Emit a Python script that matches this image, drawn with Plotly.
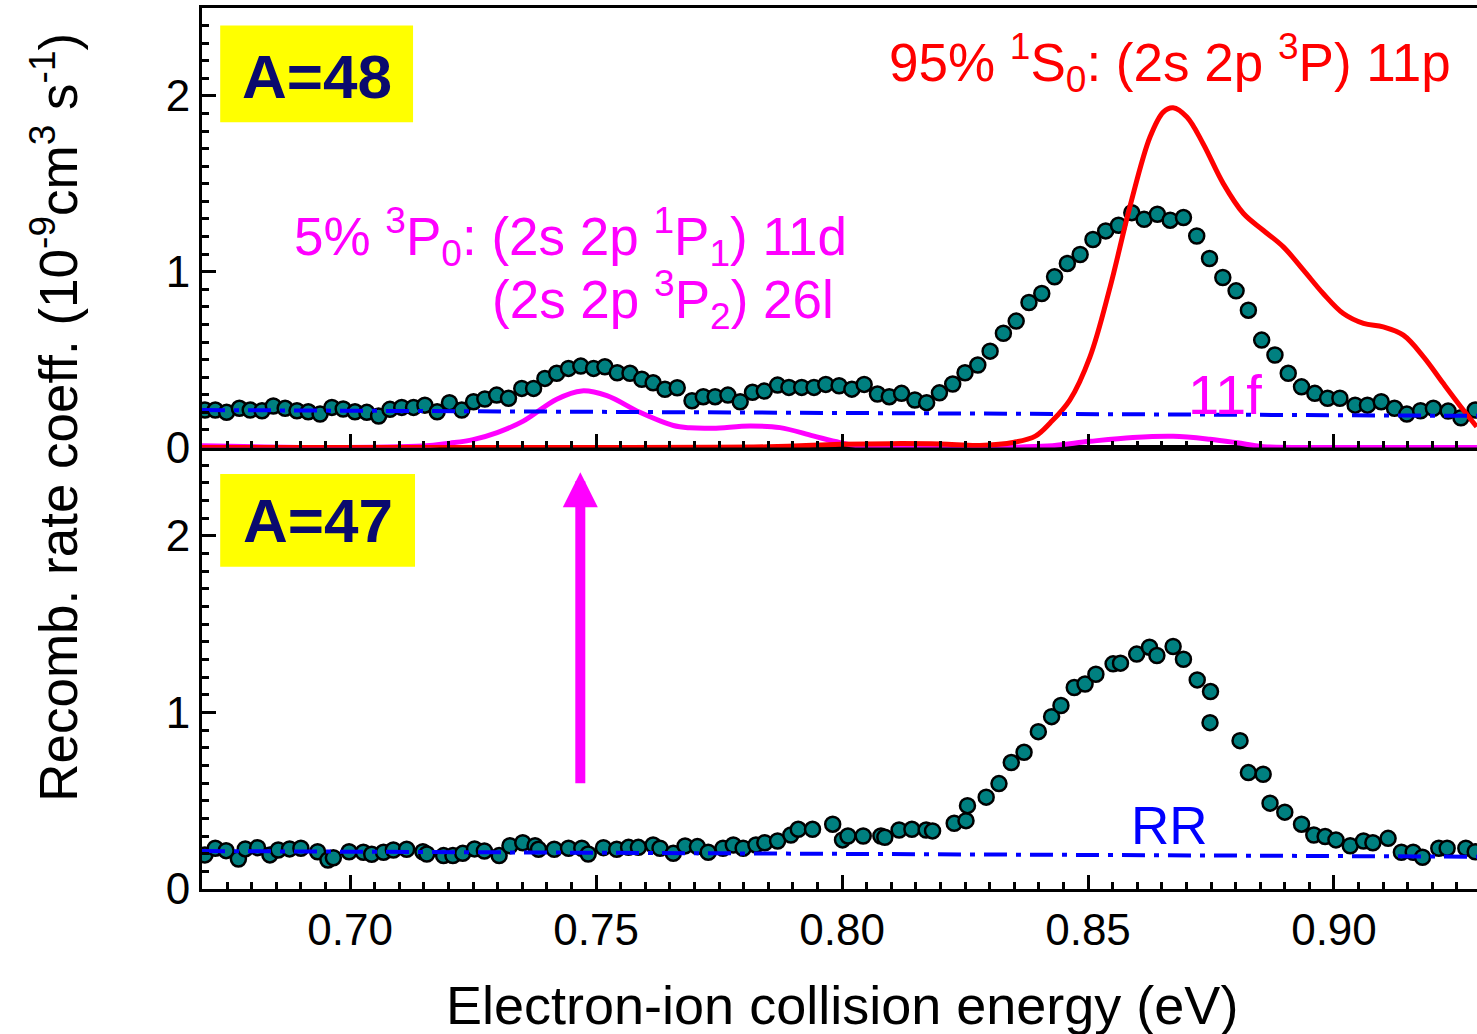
import plotly.graph_objects as go

# ---------------- data ----------------
top_x = [0.6705, 0.6726, 0.6749, 0.6775, 0.6797, 0.6821, 0.6844, 0.6868, 0.6892, 0.6915,
         0.6939, 0.6963, 0.6986, 0.7010, 0.7034, 0.7058, 0.7081, 0.7105, 0.7129, 0.7152,
         0.7177, 0.7202, 0.7227, 0.7251, 0.7274, 0.7298, 0.7322, 0.7349, 0.7373, 0.7396,
         0.7420, 0.7444, 0.7469, 0.7495, 0.7518, 0.7543, 0.7569, 0.7593, 0.7616, 0.7640,
         0.7665, 0.7695, 0.7718, 0.7742, 0.7768, 0.7793, 0.7818, 0.7842, 0.7869, 0.7892,
         0.7918, 0.7943, 0.7967, 0.7994, 0.8020, 0.8045, 0.8072, 0.8096, 0.8121, 0.8148,
         0.8172, 0.8198, 0.8225, 0.8250, 0.8276, 0.8301, 0.8328, 0.8354, 0.8380, 0.8406,
         0.8432, 0.8458, 0.8484, 0.8510, 0.8536, 0.8562, 0.8589, 0.8614, 0.8641, 0.8667,
         0.8694, 0.8721, 0.8747, 0.8774, 0.8801, 0.8826, 0.8853, 0.8880, 0.8907, 0.8934,
         0.8961, 0.8987, 0.9012, 0.9043, 0.9068, 0.9096, 0.9123, 0.9148, 0.9176, 0.9202,
         0.9232, 0.9258, 0.9287]
top_y = [0.213, 0.213, 0.200, 0.223, 0.213, 0.209, 0.236, 0.223, 0.209, 0.203,
         0.190, 0.228, 0.219, 0.203, 0.200, 0.179, 0.217, 0.228, 0.228, 0.241,
         0.203, 0.255, 0.213, 0.260, 0.276, 0.298, 0.280, 0.336, 0.336, 0.393,
         0.422, 0.450, 0.463, 0.450, 0.459, 0.425, 0.422, 0.388, 0.368, 0.331,
         0.340, 0.266, 0.289, 0.289, 0.298, 0.260, 0.314, 0.321, 0.355, 0.342,
         0.342, 0.342, 0.359, 0.351, 0.332, 0.359, 0.304, 0.289, 0.308, 0.270,
         0.255, 0.311, 0.361, 0.425, 0.469, 0.548, 0.650, 0.719, 0.825, 0.876,
         0.971, 1.047, 1.098, 1.183, 1.232, 1.264, 1.336, 1.298, 1.327, 1.293,
         1.308, 1.203, 1.075, 0.967, 0.891, 0.781, 0.611, 0.526, 0.422, 0.345,
         0.308, 0.280, 0.280, 0.241, 0.241, 0.260, 0.223, 0.190, 0.209, 0.223,
         0.207, 0.169, 0.213]

bot_x = [0.6705, 0.6726, 0.6748, 0.6773, 0.6787, 0.6812, 0.6837, 0.6854, 0.6877, 0.6900,
         0.6934, 0.6955, 0.6966, 0.6998, 0.7027, 0.7044, 0.7068, 0.7088, 0.7115, 0.7148,
         0.7156, 0.7190, 0.7209, 0.7229, 0.7253, 0.7273, 0.7303, 0.7325, 0.7351, 0.7376,
         0.7383, 0.7415, 0.7444, 0.7471, 0.7484, 0.7515, 0.7542, 0.7566, 0.7586, 0.7616,
         0.7630, 0.7657, 0.7681, 0.7706, 0.7728, 0.7758, 0.7779, 0.7799, 0.7825, 0.7843,
         0.7869, 0.7896, 0.7911, 0.7940, 0.7981, 0.8001, 0.8012, 0.8043, 0.8079, 0.8087,
         0.8116, 0.8142, 0.8171, 0.8184, 0.8228, 0.8252, 0.8255, 0.8293, 0.8319, 0.8344,
         0.8370, 0.8399, 0.8426, 0.8445, 0.8472, 0.8494, 0.8516, 0.8551, 0.8566, 0.8599,
         0.8625, 0.8640, 0.8673, 0.8694, 0.8722, 0.8749, 0.8748, 0.8809, 0.8826, 0.8856,
         0.8870, 0.8900, 0.8934, 0.8959, 0.8982, 0.9004, 0.9033, 0.9060, 0.9079, 0.9110,
         0.9137, 0.9161, 0.9180, 0.9213, 0.9230, 0.9268, 0.9287]
bot_y = [0.193, 0.231, 0.217, 0.170, 0.227, 0.234, 0.193, 0.221, 0.227, 0.231,
         0.211, 0.164, 0.177, 0.211, 0.208, 0.197, 0.208, 0.221, 0.225, 0.211,
         0.198, 0.189, 0.189, 0.202, 0.227, 0.215, 0.189, 0.245, 0.262, 0.245,
         0.225, 0.225, 0.231, 0.231, 0.198, 0.234, 0.225, 0.236, 0.236, 0.249,
         0.231, 0.202, 0.244, 0.240, 0.208, 0.231, 0.249, 0.231, 0.249, 0.262,
         0.272, 0.306, 0.338, 0.338, 0.367, 0.278, 0.300, 0.300, 0.300, 0.293,
         0.334, 0.338, 0.334, 0.329, 0.372, 0.387, 0.472, 0.520, 0.597, 0.716,
         0.774, 0.891, 0.976, 1.039, 1.141, 1.161, 1.216, 1.275, 1.279, 1.330,
         1.369, 1.322, 1.373, 1.301, 1.184, 1.118, 0.942, 0.840, 0.659, 0.650,
         0.486, 0.435, 0.367, 0.306, 0.297, 0.278, 0.245, 0.272, 0.262, 0.287,
         0.208, 0.208, 0.180, 0.231, 0.231, 0.231, 0.211]

# theory for 3P0 state (magenta)
mag_x = [0.6699, 0.6945, 0.7148, 0.7203, 0.7250, 0.7299, 0.7352, 0.7420, 0.7471, 0.7522,
         0.7589, 0.7657, 0.7691, 0.7738, 0.7813, 0.7874, 0.7941, 0.7996, 0.8043, 0.8144,
         0.8280, 0.8417, 0.8504, 0.8591, 0.8673, 0.8748, 0.8803, 0.8856, 0.8998, 0.9291]
mag_y = [0.010, 0.000, 0.008, 0.025, 0.045, 0.085, 0.150, 0.275, 0.322, 0.295,
         0.200, 0.125, 0.112, 0.110, 0.122, 0.113, 0.066, 0.028, 0.006, 0.000,
         0.000, 0.008, 0.035, 0.057, 0.064, 0.047, 0.027, 0.005, 0.000, 0.000]

# theory for 1S0 state (red)
red_x = [0.6699, 0.7400, 0.7850, 0.7996, 0.8100, 0.8200, 0.8280, 0.8350, 0.8393, 0.8423,
         0.8463, 0.8504, 0.8545, 0.8585, 0.8626, 0.8653, 0.8673, 0.8701, 0.8734, 0.8775,
         0.8816, 0.8856, 0.8897, 0.8938, 0.8978, 0.9019, 0.9060, 0.9100, 0.9141, 0.9182,
         0.9222, 0.9263, 0.9290]
red_y = [0.000, 0.000, 0.004, 0.018, 0.022, 0.020, 0.012, 0.030, 0.065, 0.140,
         0.270, 0.516, 0.914, 1.368, 1.766, 1.908, 1.933, 1.880, 1.728, 1.501,
         1.331, 1.236, 1.141, 1.009, 0.876, 0.762, 0.706, 0.686, 0.639, 0.516,
         0.365, 0.213, 0.118]

# radiative recombination background
rr_x = [0.6699, 0.9291]
rr_top = [0.213, 0.180]
rr_bot = [0.215, 0.183]

x_ticks = [0.70, 0.75, 0.80, 0.85, 0.90]
x_ticklabels = ["0.70", "0.75", "0.80", "0.85", "0.90"]

# ---------------- figure ----------------
FONT = "Liberation Sans, Arial, sans-serif"
TEAL = "#008080"
fig = go.Figure()

marker = dict(size=15, color=TEAL, line=dict(color="black", width=2.5))

# top panel (A=48)
fig.add_trace(go.Scatter(x=top_x, y=top_y, mode="markers", marker=marker,
                         xaxis="x2", yaxis="y2", showlegend=False))
fig.add_trace(go.Scatter(x=mag_x, y=mag_y, mode="lines", line=dict(color="#ff00ff", width=5, shape="spline"),
                         xaxis="x2", yaxis="y2", showlegend=False))
fig.add_trace(go.Scatter(x=red_x, y=red_y, mode="lines", line=dict(color="#ff0000", width=5, shape="spline"),
                         xaxis="x2", yaxis="y2", showlegend=False))
fig.add_trace(go.Scatter(x=rr_x, y=rr_top, mode="lines",
                         line=dict(color="#0000ff", width=4, dash="23px,9px,5px,9px"),
                         xaxis="x2", yaxis="y2", showlegend=False))

# bottom panel (A=47)
fig.add_trace(go.Scatter(x=bot_x, y=bot_y, mode="markers", marker=marker,
                         xaxis="x", yaxis="y", showlegend=False))
fig.add_trace(go.Scatter(x=rr_x, y=rr_bot, mode="lines",
                         line=dict(color="#0000ff", width=4, dash="23px,9px,5px,9px"),
                         xaxis="x", yaxis="y", showlegend=False))

XR = [0.6699, 0.92907]
split = 441.5 / 881.0

axis_common = dict(
    showline=True, linecolor="black", linewidth=3,
    ticks="inside", ticklen=14, tickwidth=2.5, tickcolor="black",
    showgrid=False, zeroline=False,
    tickfont=dict(family=FONT, size=44, color="black"),
)

fig.update_layout(
    width=1477, height=1034,
    margin=dict(l=202, r=0, t=8, b=145),
    paper_bgcolor="white", plot_bgcolor="white",
    font=dict(family=FONT, color="black"),
    xaxis=dict(**axis_common, range=XR, domain=[0, 1], anchor="y",
               tickvals=x_ticks, ticktext=x_ticklabels, mirror=True,
               minor=dict(dtick=0.005, ticks="inside", ticklen=7, tickwidth=2.5, tickcolor="black")),
    yaxis=dict(**axis_common, range=[0, 2.5], domain=[0, split], anchor="x",
               tickvals=[0, 1, 2], ticktext=["0", "1", "2"],
               minor=dict(dtick=0.1, ticks="inside", ticklen=7, tickwidth=2.5, tickcolor="black")),
    xaxis2=dict(**axis_common, range=XR, domain=[0, 1], anchor="y2", matches="x",
                tickvals=x_ticks, showticklabels=False, mirror=True,
                minor=dict(dtick=0.005, ticks="inside", ticklen=7, tickwidth=2.5, tickcolor="black")),
    yaxis2=dict(**axis_common, range=[0, 2.5], domain=[split, 1], anchor="x2",
                tickvals=[0, 1, 2], ticktext=["0", "1", "2"],
                minor=dict(dtick=0.1, ticks="inside", ticklen=7, tickwidth=2.5, tickcolor="black")),
)

# yellow boxes
fig.add_shape(type="rect", xref="x2", yref="y2",
              x0=0.6736, x1=0.7128, y0=1.85, y1=2.40,
              fillcolor="#ffff00", line=dict(width=0), layer="below")
fig.add_shape(type="rect", xref="x", yref="y",
              x0=0.6736, x1=0.7132, y0=1.825, y1=2.35,
              fillcolor="#ffff00", line=dict(width=0), layer="below")

NAVY = "#0a0a6e"
fig.add_annotation(text="<b>A=48</b>", xref="x2", yref="y2", x=0.6932, y=2.11,
                   xanchor="center", yanchor="middle",
                   showarrow=False, font=dict(family=FONT, size=62, color=NAVY))
fig.add_annotation(text="<b>A=47</b>", xref="x", yref="y", x=0.6935, y=2.085,
                   xanchor="center", yanchor="middle",
                   showarrow=False, font=dict(family=FONT, size=62, color=NAVY))

# red label
fig.add_annotation(text="95% <sup>1</sup>S<sub>0</sub>: (2s 2p <sup>3</sup>P) 11p",
                   xref="x2", yref="y2", x=0.8091, y=2.19, xanchor="left", yanchor="middle",
                   showarrow=False, font=dict(family=FONT, size=53, color="#ff0000"))
# magenta labels
fig.add_annotation(text="5% <sup>3</sup>P<sub>0</sub>: (2s 2p <sup>1</sup>P<sub>1</sub>) 11d",
                   xref="x2", yref="y2", x=0.6882, y=1.20, xanchor="left", yanchor="middle",
                   showarrow=False, font=dict(family=FONT, size=53, color="#ff00ff"))
fig.add_annotation(text="(2s 2p <sup>3</sup>P<sub>2</sub>) 26l",
                   xref="x2", yref="y2", x=0.7285, y=0.84, xanchor="left", yanchor="middle",
                   showarrow=False, font=dict(family=FONT, size=53, color="#ff00ff"))
fig.add_annotation(text="11f", xref="x2", yref="y2", x=0.8778, y=0.30,
                   showarrow=False, font=dict(family=FONT, size=56, color="#ff00ff"))
fig.add_annotation(text="RR", xref="x", yref="y", x=0.8666, y=0.36,
                   showarrow=False, font=dict(family=FONT, size=53, color="#0000ff"))

# magenta arrow
fig.add_annotation(x=0.7468, y=2.36, ax=0.7468, ay=0.59, xref="x", yref="y", axref="x", ayref="y",
                   showarrow=True, arrowhead=2, arrowsize=0.7, arrowwidth=10, arrowcolor="#ff00ff", text="")

# axis titles
fig.add_annotation(text="Recomb. rate coeff. (10<sup>-9</sup>cm<sup>3</sup> s<sup>-1</sup>)",
                   xref="paper", yref="paper", x=-0.1153, y=0.536, textangle=-90,
                   xanchor="center", yanchor="middle",
                   showarrow=False, font=dict(family=FONT, size=53, color="black"))
fig.add_annotation(text="Electron-ion collision energy (eV)",
                   xref="paper", yref="paper", x=0.502, y=-0.1317, yanchor="middle",
                   showarrow=False, font=dict(family=FONT, size=54, color="black"))

fig.write_html("out.html")
